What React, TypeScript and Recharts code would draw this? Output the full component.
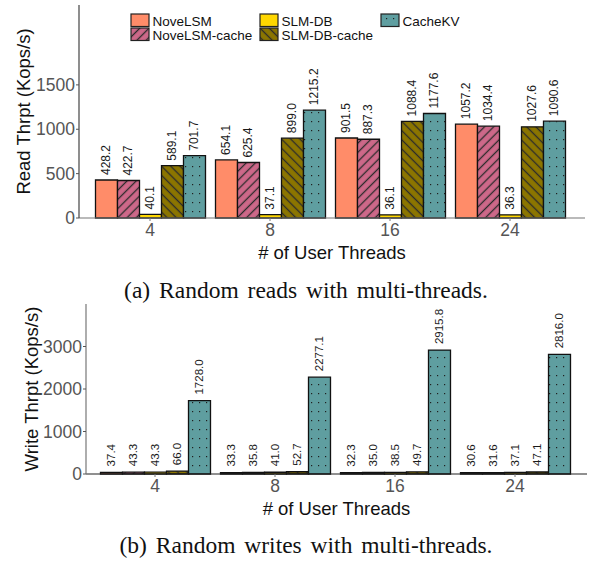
import { BarChart, Bar, XAxis, YAxis, LabelList, Legend } from 'recharts';

const FONT = '"Liberation Sans", Arial, Helvetica, sans-serif';
const SERIF = '"Liberation Serif", "Times New Roman", Times, serif';

const threads = ['4', '8', '16', '24'];
const seriesNames = ['NoveLSM', 'NoveLSM-cache', 'SLM-DB', 'SLM-DB-cache', 'CacheKV'];

// (a) random reads, Kops/s
const readNoveLSM = [428.2, 654.1, 901.5, 1057.2];
const readNoveLSMCache = [422.7, 625.4, 887.3, 1034.4];
const readSLMDB = [40.1, 37.1, 36.1, 36.3];
const readSLMDBCache = [589.1, 899.0, 1088.4, 1027.6];
const readCacheKV = [701.7, 1215.2, 1177.6, 1090.6];
const readTicks = [0, 500, 1000, 1500];

// (b) random writes, Kops/s
const writeNoveLSM = [37.4, 33.3, 32.3, 30.6];
const writeNoveLSMCache = [43.3, 35.8, 35.0, 31.6];
const writeSLMDB = [43.3, 41.0, 38.5, 37.1];
const writeSLMDBCache = [66.0, 52.7, 49.7, 47.1];
const writeCacheKV = [1728.0, 2277.1, 2915.8, 2816.0];
const writeTicks = [0, 1000, 2000, 3000];

const fills = ['#FF8C69', 'url(#hatchPink)', '#FFD700', 'url(#hatchOlive)', 'url(#dotsTeal)'];

const buildRows = (cols: number[][]) =>
  threads.map((t, i) => {
    const row: Record<string, string | number> = { threads: t };
    cols.forEach((c, k) => {
      row[`s${k}`] = c[i];
    });
    return row;
  });

const readData = buildRows([readNoveLSM, readNoveLSMCache, readSLMDB, readSLMDBCache, readCacheKV]);
const writeData = buildRows([writeNoveLSM, writeNoveLSMCache, writeSLMDB, writeSLMDBCache, writeCacheKV]);

const makeValueLabel = (gap: number, size: number) => (props: any) => {
  const vb = props.viewBox ?? props;
  const x = Number(vb.x) + Number(vb.width) / 2;
  const y = Number(vb.y) - gap;
  return (
    <text
      x={x}
      y={y}
      transform={`rotate(-90, ${x}, ${y})`}
      textAnchor="start"
      dominantBaseline="central"
      fontSize={size}
      fill="#1a1a1a"
      fontFamily={FONT}
    >
      {Number(props.value).toFixed(1)}
    </text>
  );
};

const readLabel = makeValueLabel(5, 12);
const writeLabel = makeValueLabel(6, 11.5);

// legend is laid out column by column, two rows
const LegendBox = () => {
  const colX = [0, 129, 250];
  const rowY = [0, 14];
  return (
    <svg width={320} height={30} style={{ display: 'block', overflow: 'visible' }}>
      {seriesNames.map((name, i) => {
        const x = colX[Math.floor(i / 2)];
        const y = rowY[i % 2];
        return (
          <g key={name}>
            <rect x={x} y={y} width={18} height={12.5} fill={fills[i]} stroke="#222" strokeWidth={1.2} />
            <text x={x + 21.5} y={y + 11.5} fontSize={13.5} fill="#111" fontFamily={FONT}>
              {name}
            </text>
          </g>
        );
      })}
    </svg>
  );
};

const tickStyle = { fill: '#555', fontSize: 17.5 };

const captionStyle = {
  position: 'absolute' as const,
  left: 306,
  transform: 'translateX(-50%)',
  whiteSpace: 'nowrap' as const,
  fontFamily: SERIF,
  fontSize: 23.5,
  lineHeight: '23px',
  wordSpacing: 3,
  color: '#111',
};

export default function App() {
  return (
    <div style={{ position: 'absolute', left: 0, top: 0, width: 592, height: 563, background: '#fff', fontFamily: FONT }}>
      <svg width={0} height={0} style={{ position: 'absolute' }}>
        <defs>
          <pattern id="hatchPink" patternUnits="userSpaceOnUse" width={6.5} height={6.5} patternTransform="rotate(45)">
            <rect width={6.5} height={6.5} fill="#CD6889" />
            <line x1={3.25} y1={0} x2={3.25} y2={6.5} stroke="#2b2b2b" strokeWidth={1.3} />
          </pattern>
          <pattern id="hatchOlive" patternUnits="userSpaceOnUse" width={6.5} height={6.5} patternTransform="rotate(-45)">
            <rect width={6.5} height={6.5} fill="#8B7500" />
            <line x1={3.25} y1={0} x2={3.25} y2={6.5} stroke="#2b2b2b" strokeWidth={1.3} />
          </pattern>
          <pattern id="dotsTeal" patternUnits="userSpaceOnUse" width={7} height={9}>
            <rect width={7} height={9} fill="#5F9EA0" />
            <rect x={3} y={4} width={1.2} height={1.2} fill="#1f1f1f" />
          </pattern>
        </defs>
      </svg>

      <div style={{ position: 'absolute', left: 0, top: 0 }}>
        <BarChart
          width={592}
          height={263}
          data={readData}
          margin={{ top: 5, right: 7, bottom: 0, left: 0 }}
          barCategoryGap={5.5}
          barGap={0}
        >
          <XAxis
            dataKey="threads"
            height={45}
            interval={0}
            padding={{ left: 11, right: 15 }}
            tickSize={3}
            tickMargin={3}
            tick={tickStyle}
            axisLine={{ stroke: '#777', strokeWidth: 1.2 }}
            tickLine={{ stroke: '#777' }}
            label={{ value: '# of User Threads', position: 'insideBottom', offset: 4, fill: '#111', fontSize: 18.5 }}
          />
          <YAxis
            width={79}
            domain={[0, 2400]}
            ticks={readTicks}
            tickSize={3}
            tickMargin={1}
            tick={tickStyle}
            axisLine={{ stroke: '#444', strokeWidth: 1.2 }}
            tickLine={{ stroke: '#555' }}
            label={{
              value: 'Read Thrpt (Kops/s)',
              angle: -90,
              position: 'insideLeft',
              offset: 23,
              fill: '#111',
              fontSize: 18.5,
              style: { textAnchor: 'middle' },
            }}
          />
          <Legend
            content={<LegendBox />}
            layout="vertical"
            align="center"
            verticalAlign="middle"
            wrapperStyle={{ top: 14, left: 131, width: 320, height: 30 }}
          />
          {seriesNames.map((name, i) => (
            <Bar key={name} dataKey={`s${i}`} name={name} fill={fills[i]} stroke="#111" strokeWidth={1.3} isAnimationActive={false}>
              <LabelList dataKey={`s${i}`} content={readLabel} />
            </Bar>
          ))}
        </BarChart>
      </div>

      <div style={{ ...captionStyle, top: 278.5 }}>(a) Random reads with multi-threads.</div>

      <div style={{ position: 'absolute', left: 0, top: 299 }}>
        <BarChart
          width={592}
          height={220}
          data={writeData}
          margin={{ top: 5, right: 5, bottom: 0, left: 0 }}
          barCategoryGap={5.5}
          barGap={0}
        >
          <XAxis
            dataKey="threads"
            height={45}
            interval={0}
            padding={{ left: 9, right: 12 }}
            tickSize={3}
            tickMargin={3}
            tick={tickStyle}
            axisLine={{ stroke: '#222', strokeWidth: 1.2 }}
            tickLine={{ stroke: '#777' }}
            label={{ value: '# of User Threads', position: 'insideBottom', offset: 4, fill: '#111', fontSize: 18.5 }}
          />
          <YAxis
            width={86}
            domain={[0, 4000]}
            ticks={writeTicks}
            tickSize={3}
            tickMargin={1}
            tick={tickStyle}
            axisLine={{ stroke: '#777', strokeWidth: 1.2 }}
            tickLine={{ stroke: '#555' }}
            label={{
              value: 'Write Thrpt (Kops/s)',
              angle: -90,
              position: 'insideLeft',
              offset: 31,
              fill: '#111',
              fontSize: 18.5,
              style: { textAnchor: 'middle' },
            }}
          />
          {seriesNames.map((name, i) => (
            <Bar key={name} dataKey={`s${i}`} name={name} fill={fills[i]} stroke="#111" strokeWidth={1.3} isAnimationActive={false}>
              <LabelList dataKey={`s${i}`} content={writeLabel} />
            </Bar>
          ))}
        </BarChart>
      </div>

      <div style={{ ...captionStyle, top: 533.5 }}>(b) Random writes with multi-threads.</div>
    </div>
  );
}
